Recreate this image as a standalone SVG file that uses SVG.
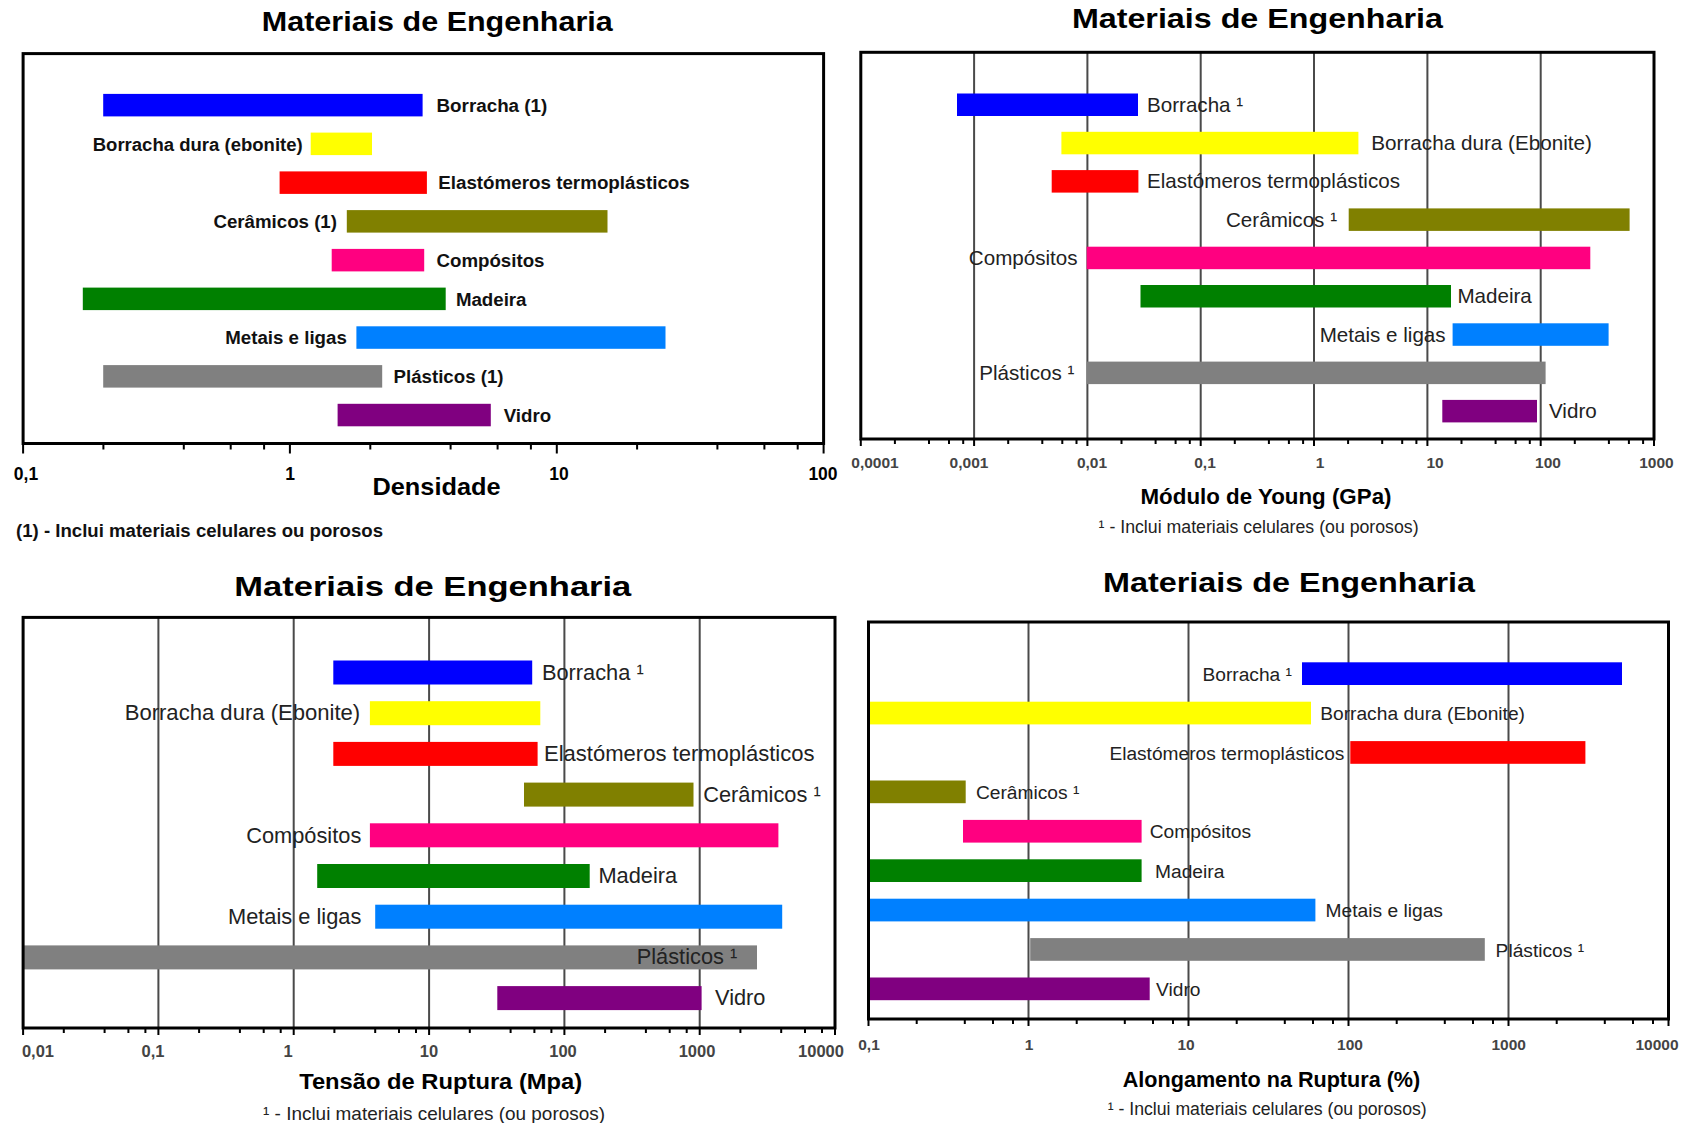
<svg xmlns="http://www.w3.org/2000/svg" width="1687" height="1123" viewBox="0 0 1687 1123">
<style>
text{font-family:"Liberation Sans",Arial,sans-serif}
.ttl{font-weight:bold;font-size:27px;fill:#000;text-anchor:middle}
.ax{font-weight:bold;font-size:22px;fill:#000;text-anchor:middle}
.l1{font-weight:bold;font-size:18.7px;fill:#111}
.l2{font-size:20.6px;fill:#222}
.l3{font-size:21.8px;fill:#222}
.l4{font-size:19.2px;fill:#222}
.e{text-anchor:end}
.tk1{font-weight:bold;font-size:17.5px;fill:#000;text-anchor:middle}
.tk{font-weight:bold;font-size:15.5px;fill:#444;text-anchor:middle}
.fn1{font-weight:bold;font-size:18px;fill:#111}
.fn{font-size:17.5px;fill:#222}
.frame{fill:none;stroke:#000;stroke-width:3}
.grid{stroke:#4a4a4a;stroke-width:2;fill:none}
.tick{stroke:#000;stroke-width:2;fill:none}
.blu{fill:#0000FF}.yel{fill:#FFFF00}.red{fill:#FF0000}.oli{fill:#808000}.pnk{fill:#FF0080}.grn{fill:#008000}.lbl{fill:#0080FF}.gry{fill:#808080}.pur{fill:#800080}
</style>
<rect width="1687" height="1123" fill="#fff"/>

<!-- ============ Panel 1: Densidade ============ -->
<g id="panel-densidade">
<text class="ttl" x="437.3" y="30.5" textLength="351" lengthAdjust="spacingAndGlyphs">Materiais de Engenharia</text>
<g id="p1-axes">
<rect class="frame" x="23.1" y="53.6" width="800.5" height="389.9"/>
<path class="tick" d="M23.1 443.5v10M289.9 443.5v10M556.8 443.5v10M823.6 443.5v10M103.4 443.5v6M183.8 443.5v6M230.7 443.5v6M264.1 443.5v6M370.3 443.5v6M450.6 443.5v6M497.6 443.5v6M530.9 443.5v6M637.1 443.5v6M717.4 443.5v6M764.4 443.5v6M797.7 443.5v6"/>
<text class="tk1" x="26" y="480">0,1</text>
<text class="tk1" x="290" y="480">1</text>
<text class="tk1" x="559" y="480">10</text>
<text class="tk1" x="823" y="480">100</text>
<text class="ax" x="436.5" y="495" style="font-size:24px" textLength="128" lengthAdjust="spacingAndGlyphs">Densidade</text>
<text class="fn1" x="16" y="536.7" textLength="367" lengthAdjust="spacingAndGlyphs">(1) - Inclui materiais celulares ou porosos</text>
</g>
<g id="p1-borracha"><rect class="blu" x="103.2" y="93.9" width="319.4" height="22.5"/><text class="l1" x="436.5" y="112" textLength="110.8" lengthAdjust="spacingAndGlyphs">Borracha (1)</text></g>
<g id="p1-borracha-dura"><rect class="yel" x="310.7" y="132.6" width="61.3" height="22.5"/><text class="l1 e" x="302.7" y="150.6" textLength="210" lengthAdjust="spacingAndGlyphs">Borracha dura (ebonite)</text></g>
<g id="p1-elastomeros"><rect class="red" x="279.6" y="171.4" width="147.3" height="22.5"/><text class="l1" x="438.2" y="189.4" textLength="251.6" lengthAdjust="spacingAndGlyphs">Elastómeros termoplásticos</text></g>
<g id="p1-ceramicos"><rect class="oli" x="346.8" y="210.1" width="260.7" height="22.5"/><text class="l1 e" x="337" y="228.1">Cerâmicos (1)</text></g>
<g id="p1-compositos"><rect class="pnk" x="331.7" y="248.9" width="92.5" height="22.5"/><text class="l1" x="436.5" y="266.9">Compósitos</text></g>
<g id="p1-madeira"><rect class="grn" x="82.8" y="287.6" width="362.9" height="22.5"/><text class="l1" x="455.9" y="305.6">Madeira</text></g>
<g id="p1-metais"><rect class="lbl" x="356.4" y="326.3" width="309.1" height="22.5"/><text class="l1 e" x="346.8" y="344.3">Metais e ligas</text></g>
<g id="p1-plasticos"><rect class="gry" x="103.2" y="365.1" width="279" height="22.5"/><text class="l1" x="393.5" y="383.1">Plásticos (1)</text></g>
<g id="p1-vidro"><rect class="pur" x="337.6" y="403.8" width="153.2" height="22.5"/><text class="l1" x="503.7" y="421.8">Vidro</text></g>
</g>

<!-- ============ Panel 2: Modulo de Young ============ -->
<g id="panel-young">
<text class="ttl" x="1257.4" y="27.5" textLength="371" lengthAdjust="spacingAndGlyphs">Materiais de Engenharia</text>
<g id="p2-axes">
<path class="grid" d="M974.1 52.3V439M1087.4 52.3V439M1200.7 52.3V439M1314 52.3V439M1427.4 52.3V439M1540.7 52.3V439"/>
</g>
<g id="p2-borracha"><rect class="blu" x="957" y="93.5" width="181" height="22.5"/><text class="l2" x="1147" y="111.8">Borracha ¹</text></g>
<g id="p2-borracha-dura"><rect class="yel" x="1061.4" y="131.8" width="297" height="22.5"/><text class="l2" x="1371.3" y="150.1" textLength="220.7" lengthAdjust="spacingAndGlyphs">Borracha dura (Ebonite)</text></g>
<g id="p2-elastomeros"><rect class="red" x="1051.7" y="170.1" width="86.7" height="22.5"/><text class="l2" x="1147" y="188.4" textLength="253" lengthAdjust="spacingAndGlyphs">Elastómeros termoplásticos</text></g>
<g id="p2-ceramicos"><rect class="oli" x="1348.7" y="208.4" width="280.9" height="22.5"/><text class="l2 e" x="1337" y="226.7">Cerâmicos ¹</text></g>
<g id="p2-compositos"><rect class="pnk" x="1086.7" y="246.7" width="503.6" height="22.5"/><text class="l2 e" x="1077.6" y="265">Compósitos</text></g>
<g id="p2-madeira"><rect class="grn" x="1140.5" y="285" width="310.5" height="22.5"/><text class="l2" x="1457.4" y="303.3">Madeira</text></g>
<g id="p2-metais"><rect class="lbl" x="1452.6" y="323.3" width="156" height="22.5"/><text class="l2 e" x="1445.6" y="341.6">Metais e ligas</text></g>
<g id="p2-plasticos"><rect class="gry" x="1086.7" y="361.6" width="458.9" height="22.5"/><text class="l2 e" x="1074.3" y="379.9">Plásticos ¹</text></g>
<g id="p2-vidro"><rect class="pur" x="1442.3" y="399.9" width="94.7" height="22.5"/><text class="l2" x="1549" y="418.2">Vidro</text></g>
<g id="p2-frame">
<rect class="frame" x="860.8" y="52.3" width="793.2" height="386.7"/>
<path class="tick" d="M860.8 439v7M974.1 439v7M1087.4 439v7M1200.7 439v7M1314 439v7M1427.4 439v7M1540.7 439v7M1654 439v7M894.9 439v5M929 439v5M949 439v5M963.2 439v5M1008.2 439v5M1042.3 439v5M1062.3 439v5M1076.5 439v5M1121.5 439v5M1155.6 439v5M1175.6 439v5M1189.8 439v5M1234.8 439v5M1268.9 439v5M1288.9 439v5M1303.1 439v5M1348.1 439v5M1382.2 439v5M1402.2 439v5M1416.4 439v5M1461.5 439v5M1495.6 439v5M1515.6 439v5M1529.8 439v5M1574.8 439v5M1608.9 439v5M1628.9 439v5M1643.1 439v5"/>
<text class="tk" x="875" y="468">0,0001</text>
<text class="tk" x="969" y="468">0,001</text>
<text class="tk" x="1092" y="468">0,01</text>
<text class="tk" x="1205" y="468">0,1</text>
<text class="tk" x="1320" y="468">1</text>
<text class="tk" x="1435" y="468">10</text>
<text class="tk" x="1548" y="468">100</text>
<text class="tk" x="1656.5" y="468">1000</text>
<text class="ax" x="1266" y="503.5" textLength="251" lengthAdjust="spacingAndGlyphs">Módulo de Young (GPa)</text>
<text class="fn" x="1098.6" y="533.3" textLength="320" lengthAdjust="spacingAndGlyphs">¹ - Inclui materiais celulares (ou porosos)</text>
</g>
</g>

<!-- ============ Panel 3: Tensao de Ruptura ============ -->
<g id="panel-tensao">
<text class="ttl" x="432.8" y="596" textLength="397" lengthAdjust="spacingAndGlyphs">Materiais de Engenharia</text>
<g id="p3-axes">
<path class="grid" d="M158.4 617.4V1028M293.7 617.4V1028M429.1 617.4V1028M564.4 617.4V1028M699.7 617.4V1028"/>
</g>
<g id="p3-borracha"><rect class="blu" x="333.3" y="660.5" width="198.9" height="24"/><text class="l3" x="541.9" y="679.7">Borracha ¹</text></g>
<g id="p3-borracha-dura"><rect class="yel" x="369.9" y="701.2" width="170.4" height="24"/><text class="l3 e" x="360.2" y="720.4" textLength="235.5" lengthAdjust="spacingAndGlyphs">Borracha dura (Ebonite)</text></g>
<g id="p3-elastomeros"><rect class="red" x="333.3" y="741.9" width="204.3" height="24"/><text class="l3" x="544" y="761.1" textLength="270.5" lengthAdjust="spacingAndGlyphs">Elastómeros termoplásticos</text></g>
<g id="p3-ceramicos"><rect class="oli" x="524" y="782.6" width="169.5" height="24"/><text class="l3" x="703.2" y="801.8">Cerâmicos ¹</text></g>
<g id="p3-compositos"><rect class="pnk" x="369.9" y="823.3" width="408.5" height="24"/><text class="l3 e" x="361.3" y="842.5">Compósitos</text></g>
<g id="p3-madeira"><rect class="grn" x="317.2" y="864" width="272.5" height="24"/><text class="l3" x="598.4" y="883.2">Madeira</text></g>
<g id="p3-metais"><rect class="lbl" x="375.2" y="904.7" width="407" height="24"/><text class="l3 e" x="361.3" y="923.9">Metais e ligas</text></g>
<g id="p3-plasticos"><rect class="gry" x="23.1" y="945.4" width="733.9" height="24"/><text class="l3" x="636.7" y="964.2">Plásticos ¹</text></g>
<g id="p3-vidro"><rect class="pur" x="497.3" y="986.1" width="204.3" height="24"/><text class="l3" x="715" y="1005.3">Vidro</text></g>
<g id="p3-frame">
<rect class="frame" x="23.1" y="617.4" width="811.9" height="410.6"/>
<path class="tick" d="M23.1 1028v7M158.4 1028v7M293.7 1028v7M429.1 1028v7M564.4 1028v7M699.7 1028v7M835 1028v7M63.8 1028v5M104.6 1028v5M128.4 1028v5M145.4 1028v5M199.1 1028v5M239.9 1028v5M263.7 1028v5M280.7 1028v5M334.4 1028v5M375.2 1028v5M399 1028v5M416 1028v5M469.8 1028v5M510.6 1028v5M534.4 1028v5M551.4 1028v5M605.1 1028v5M645.9 1028v5M669.7 1028v5M686.7 1028v5M740.4 1028v5M781.2 1028v5M805 1028v5M822 1028v5"/>
<text class="tk" x="38" y="1057" style="font-size:16.5px">0,01</text>
<text class="tk" x="153" y="1057" style="font-size:16.5px">0,1</text>
<text class="tk" x="288" y="1057" style="font-size:16.5px">1</text>
<text class="tk" x="429" y="1057" style="font-size:16.5px">10</text>
<text class="tk" x="563" y="1057" style="font-size:16.5px">100</text>
<text class="tk" x="697" y="1057" style="font-size:16.5px">1000</text>
<text class="tk" x="821" y="1057" style="font-size:16.5px">10000</text>
<text class="ax" x="440.7" y="1088.5" textLength="283" lengthAdjust="spacingAndGlyphs">Tensão de Ruptura (Mpa)</text>
<text class="fn" x="263" y="1120" style="font-size:18.5px" textLength="342" lengthAdjust="spacingAndGlyphs">¹ - Inclui materiais celulares (ou porosos)</text>
</g>
</g>

<!-- ============ Panel 4: Alongamento na Ruptura ============ -->
<g id="panel-alongamento">
<text class="ttl" x="1289" y="592" textLength="372" lengthAdjust="spacingAndGlyphs">Materiais de Engenharia</text>
<g id="p4-axes">
<path class="grid" d="M1028.5 622V1019M1188.5 622V1019M1348.5 622V1019M1508.5 622V1019"/>
</g>
<g id="p4-borracha"><rect class="blu" x="1302" y="662.3" width="320" height="22.7"/><text class="l4 e" x="1292" y="680.8">Borracha ¹</text></g>
<g id="p4-borracha-dura"><rect class="yel" x="868.5" y="701.7" width="442.5" height="22.7"/><text class="l4" x="1320.2" y="720.2" textLength="204.8" lengthAdjust="spacingAndGlyphs">Borracha dura (Ebonite)</text></g>
<g id="p4-elastomeros"><rect class="red" x="1350.3" y="741.1" width="235.1" height="22.7"/><text class="l4 e" x="1344.4" y="759.6" textLength="235" lengthAdjust="spacingAndGlyphs">Elastómeros termoplásticos</text></g>
<g id="p4-ceramicos"><rect class="oli" x="868.5" y="780.5" width="97.2" height="22.7"/><text class="l4" x="975.9" y="799">Cerâmicos ¹</text></g>
<g id="p4-compositos"><rect class="pnk" x="963" y="819.9" width="178.6" height="22.7"/><text class="l4" x="1149.7" y="838.4">Compósitos</text></g>
<g id="p4-madeira"><rect class="grn" x="868.5" y="859.3" width="273.1" height="22.7"/><text class="l4" x="1155" y="877.8">Madeira</text></g>
<g id="p4-metais"><rect class="lbl" x="868.5" y="898.7" width="446.9" height="22.7"/><text class="l4" x="1325.6" y="917.2">Metais e ligas</text></g>
<g id="p4-plasticos"><rect class="gry" x="1030.2" y="938.1" width="454.6" height="22.7"/><text class="l4" x="1495.6" y="956.6">Plásticos ¹</text></g>
<g id="p4-vidro"><rect class="pur" x="868.5" y="977.5" width="281.2" height="22.7"/><text class="l4" x="1156" y="996">Vidro</text></g>
<g id="p4-frame">
<rect class="frame" x="868.5" y="622" width="800" height="397"/>
<path class="tick" d="M868.5 1019v7M1028.5 1019v7M1188.5 1019v7M1348.5 1019v7M1508.5 1019v7M1668.5 1019v7M916.7 1019v5M964.8 1019v5M993 1019v5M1013 1019v5M1076.7 1019v5M1124.8 1019v5M1153 1019v5M1173 1019v5M1236.7 1019v5M1284.8 1019v5M1313 1019v5M1333 1019v5M1396.7 1019v5M1444.8 1019v5M1473 1019v5M1493 1019v5M1556.7 1019v5M1604.8 1019v5M1633 1019v5M1653 1019v5"/>
<text class="tk" x="869" y="1050">0,1</text>
<text class="tk" x="1029" y="1050">1</text>
<text class="tk" x="1186" y="1050">10</text>
<text class="tk" x="1350" y="1050">100</text>
<text class="tk" x="1508.7" y="1050">1000</text>
<text class="tk" x="1657" y="1050">10000</text>
<text class="ax" x="1271.5" y="1087.3" textLength="297.5" lengthAdjust="spacingAndGlyphs">Alongamento na Ruptura (%)</text>
<text class="fn" x="1107.7" y="1115" textLength="319" lengthAdjust="spacingAndGlyphs">¹ - Inclui materiais celulares (ou porosos)</text>
</g>
</g>
</svg>
